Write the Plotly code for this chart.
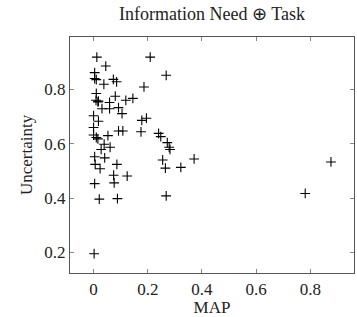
import plotly.graph_objects as go

map_vals = [0.012, 0.209, 0.045, 0.004, 0.004, 0.010, 0.268, 0.073, 0.085, 0.038,
            0.186, 0.010, 0.080, 0.009, 0.016, 0.018, 0.119, 0.145, 0.059, 0.031,
            0.059, 0.092, 0.105, 0.000, 0.018, 0.178, 0.195, 0.000, 0.092, 0.108,
            0.175, 0.000, 0.010, 0.016, 0.053, 0.240, 0.248, 0.272, 0.279, 0.282,
            0.039, 0.061, 0.028, 0.004, 0.041, 0.255, 0.371, 0.006, 0.086, 0.024,
            0.265, 0.322, 0.074, 0.124, 0.004, 0.076, 0.021, 0.088, 0.268, 0.002,
            0.876, 0.781]
uncertainty = [0.919, 0.919, 0.886, 0.862, 0.840, 0.836, 0.852, 0.837, 0.828, 0.819,
               0.809, 0.785, 0.775, 0.760, 0.754, 0.757, 0.760, 0.767, 0.752, 0.729,
               0.729, 0.733, 0.711, 0.703, 0.683, 0.686, 0.694, 0.660, 0.647, 0.647,
               0.644, 0.632, 0.623, 0.618, 0.630, 0.638, 0.626, 0.604, 0.587, 0.579,
               0.598, 0.587, 0.579, 0.552, 0.548, 0.540, 0.544, 0.524, 0.524, 0.508,
               0.510, 0.513, 0.484, 0.481, 0.453, 0.456, 0.396, 0.398, 0.408, 0.195,
               0.533, 0.417]

x_ticks = [0, 0.2, 0.4, 0.6, 0.8]
x_tick_labels = ["0", "0.2", "0.4", "0.6", "0.8"]
y_ticks = [0.2, 0.4, 0.6, 0.8]
y_tick_labels = ["0.2", "0.4", "0.6", "0.8"]

FONT = "Liberation Serif"
TXT = "#222222"

fig = go.Figure(go.Scatter(
    x=map_vals, y=uncertainty, mode="markers",
    marker=dict(symbol="cross-thin", size=7, color="black",
                line=dict(color="black", width=1.1)),
    showlegend=False,
))

axis_common = dict(
    showgrid=False, zeroline=False, showline=True, linecolor="#555555",
    linewidth=1.2, mirror="allticks", ticks="inside", ticklen=4,
    tickcolor="#888888", tickwidth=1,
    tickfont=dict(family=FONT, size=17, color=TXT),
)

fig.update_layout(
    width=357, height=317,
    margin=dict(l=70, r=3, t=37, b=44),
    paper_bgcolor="white", plot_bgcolor="white",
    title=dict(text="Information Need ⊕ Task", x=0.5, xref="paper",
               y=1 - 14 / 317, yref="container", yanchor="middle",
               font=dict(family=FONT, size=18, color=TXT)),
    xaxis=dict(range=[-0.087, 0.961], tickvals=x_ticks, ticktext=x_tick_labels,
               title=dict(text="MAP", standoff=2,
                          font=dict(family=FONT, size=17, color=TXT)),
               **axis_common),
    yaxis=dict(range=[0.124, 0.993], tickvals=y_ticks, ticktext=y_tick_labels,
               title=dict(text="Uncertainty", standoff=7,
                          font=dict(family=FONT, size=17, color=TXT)),
               **axis_common),
)

fig.write_html("out.html", config={"displayModeBar": False},
               post_script="document.body.style.margin='0';document.body.style.overflow='hidden';")
